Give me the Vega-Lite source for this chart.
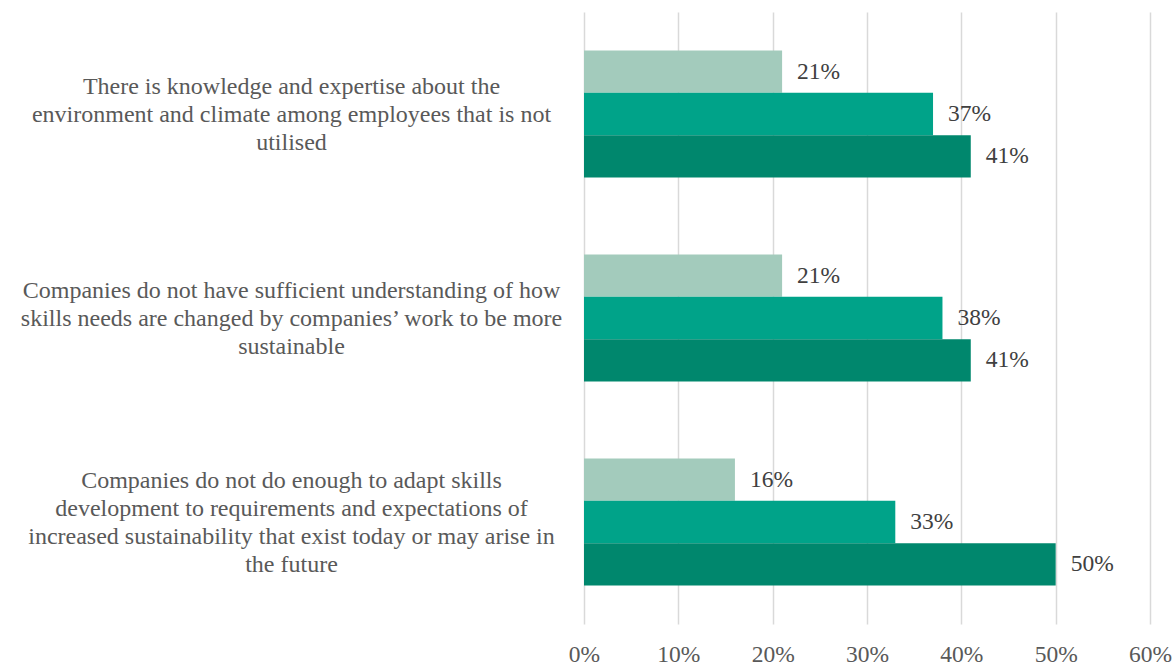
{
  "$schema": "https://vega.github.io/schema/vega-lite/v6.json",
  "width": 566,
  "height": 612,
  "autosize": {"type": "none"},
  "padding": {"left": 584, "top": 12, "right": 23, "bottom": 42},
  "background": "white",
  "config": {"view": {"stroke": null}, "font": "Liberation Serif"},
  "data": {
    "values": [
      {"statement": "There is knowledge and expertise about the|environment and climate among employees that is not|utilised", "series": "Series 1", "value": 0.21},
      {"statement": "There is knowledge and expertise about the|environment and climate among employees that is not|utilised", "series": "Series 2", "value": 0.37},
      {"statement": "There is knowledge and expertise about the|environment and climate among employees that is not|utilised", "series": "Series 3", "value": 0.41},
      {"statement": "Companies do not have sufficient understanding of how|skills needs are changed by companies’ work to be more|sustainable", "series": "Series 1", "value": 0.21},
      {"statement": "Companies do not have sufficient understanding of how|skills needs are changed by companies’ work to be more|sustainable", "series": "Series 2", "value": 0.38},
      {"statement": "Companies do not have sufficient understanding of how|skills needs are changed by companies’ work to be more|sustainable", "series": "Series 3", "value": 0.41},
      {"statement": "Companies do not do enough to adapt skills|development to requirements and expectations of|increased sustainability that exist today or may arise in|the future", "series": "Series 1", "value": 0.16},
      {"statement": "Companies do not do enough to adapt skills|development to requirements and expectations of|increased sustainability that exist today or may arise in|the future", "series": "Series 2", "value": 0.33},
      {"statement": "Companies do not do enough to adapt skills|development to requirements and expectations of|increased sustainability that exist today or may arise in|the future", "series": "Series 3", "value": 0.50}
    ]
  },
  "encoding": {
    "y": {
      "field": "statement",
      "type": "nominal",
      "sort": null,
      "scale": {"paddingInner": 0.378, "paddingOuter": 0.189},
      "axis": {
        "title": null,
        "domain": false,
        "ticks": false,
        "grid": false,
        "labelAlign": "center",
        "labelBaseline": "middle",
        "labelPadding": 293,
        "labelFontSize": 24,
        "labelColor": "#595959",
        "labelLineHeight": 28,
        "labelLimit": 0,
        "labelOffset": {"condition": {"test": "indexof(datum.value, 'the future') >= 0", "value": -41}, "value": -27},
        "labelExpr": "split(datum.label, '|')"
      }
    },
    "yOffset": {
      "field": "series",
      "type": "nominal",
      "sort": ["Series 1", "Series 2", "Series 3"],
      "scale": {"paddingInner": 0, "paddingOuter": 0}
    },
    "x": {
      "field": "value",
      "type": "quantitative",
      "scale": {"domain": [0, 0.6], "nice": false},
      "axis": {
        "title": null,
        "format": ".0%",
        "values": [0, 0.1, 0.2, 0.3, 0.4, 0.5, 0.6],
        "grid": true,
        "gridColor": "#D9D9D9",
        "gridWidth": 1.5,
        "domain": false,
        "ticks": false,
        "labelFlush": false,
        "labelPadding": 18,
        "labelFontSize": 23.5,
        "labelColor": "#595959"
      }
    }
  },
  "layer": [
    {
      "mark": {"type": "bar"},
      "encoding": {
        "color": {
          "field": "series",
          "type": "nominal",
          "scale": {"domain": ["Series 1", "Series 2", "Series 3"], "range": ["#A3CBBC", "#00A389", "#00876D"]},
          "legend": null
        }
      }
    },
    {
      "mark": {"type": "text", "align": "left", "baseline": "middle", "dx": 15, "fontSize": 23.5, "color": "#404040"},
      "encoding": {
        "text": {"field": "value", "type": "quantitative", "format": ".0%"}
      }
    }
  ]
}
